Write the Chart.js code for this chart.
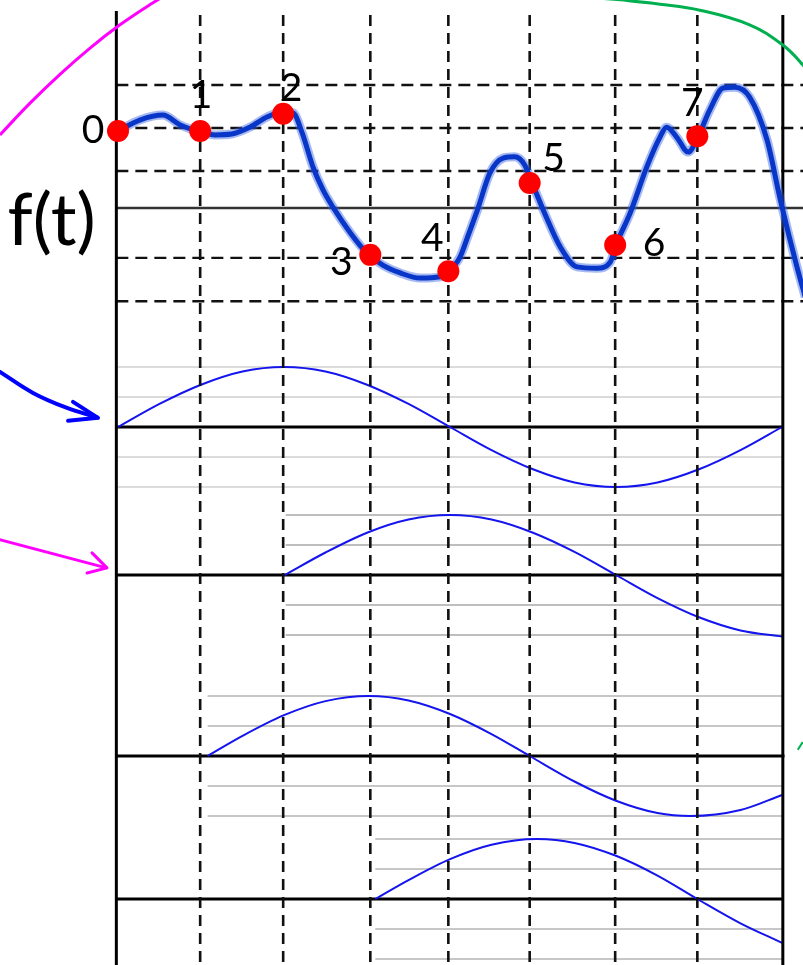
<!DOCTYPE html>
<html><head><meta charset="utf-8">
<script src="https://cdn.jsdelivr.net/npm/chart.js@4/dist/chart.umd.min.js"></script>
<style>html,body{margin:0;padding:0;background:#fff;overflow:hidden}canvas{display:block}</style>
</head><body>
<canvas id="c" width="803" height="965"></canvas>
<script>
// ---------------- data ----------------
const sampleLabels = ['0','1','2','3','4','5','6','7'];
const sampleT = [0, 0.99, 1.99, 3.04, 3.98, 4.96, 5.99, 6.98];
const sampleF = [1.79, 1.79, 2.19, -1.09, -1.47, 0.58, -0.86, 1.67];

const curveT = [0, 0.27, 0.54, 0.75, 0.99, 1.17, 1.37, 1.59, 1.8, 1.99, 2.11, 2.22, 2.35, 2.47, 2.59, 2.8, 3.0, 3.19, 3.4, 3.64, 3.88, 3.98, 4.12, 4.22, 4.33, 4.48, 4.64, 4.78, 4.9, 4.99, 5.14, 5.33, 5.53, 5.77, 5.93, 6.0, 6.17, 6.37, 6.53, 6.61, 6.73, 6.87, 6.98, 7.13, 7.29, 7.43, 7.61, 7.82, 7.98, 8.18, 8.28];
const curveF = [1.79, 2.05, 2.16, 1.93, 1.77, 1.70, 1.72, 1.88, 2.12, 2.23, 2.21, 1.74, 0.95, 0.42, 0.02, -0.58, -1.05, -1.33, -1.51, -1.63, -1.60, -1.49, -1.14, -0.63, -0.05, 0.81, 1.16, 1.19, 1.0, 0.58, -0.12, -0.91, -1.37, -1.40, -1.26, -0.86, -0.12, 0.95, 1.65, 1.88, 1.65, 1.30, 1.62, 2.28, 2.79, 2.81, 2.58, 1.58, 0.19, -1.37, -2.07];

const fGridLevels = [2.86, 1.86, 0.86, -1.16, -2.17];
const waveGridLevels = [2, 1, -1, -2];

const wave1T = [0, 0.5, 1, 1.5, 2, 2.5, 3, 3.5, 4, 4.5, 5, 5.5, 6, 6.5, 7, 7.5, 8];
const wave1V = [0, 0.77, 1.41, 1.85, 2, 1.85, 1.41, 0.77, 0, -0.77, -1.41, -1.85, -2, -1.85, -1.41, -0.77, 0];
const wave2T = [2.01, 2.5, 3, 3.5, 4, 4.5, 5, 5.5, 6, 6.5, 7, 7.5, 8];
const wave2V = [0, 0.75, 1.41, 1.85, 2, 1.85, 1.41, 0.77, 0, -0.77, -1.41, -1.85, -2.05];
const wave3T = [1.08, 1.5, 2, 2.5, 3.02, 3.5, 4, 4.5, 4.96, 5.5, 6, 6.5, 6.9, 7.5, 8];
const wave3V = [0, 0.67, 1.36, 1.83, 2, 1.85, 1.4, 0.73, 0, -0.85, -1.49, -1.9, -2, -1.8, -1.3];
const wave4T = [3.1, 3.5, 4, 4.5, 5.05, 5.5, 6, 6.5, 6.98, 7.5, 8];
const wave4V = [0, 0.63, 1.33, 1.81, 2, 1.87, 1.44, 0.78, 0, -0.81, -1.46];
const waveStartT = [0, 2.02, 1.08, 3.1];

// annotation strokes (in t / f(t) units)
const magentaArcT = [-1.482, -1.422, -1.060, -0.699, -0.337, 0.024, 0.386, 0.687];
const magentaArcF = [1.57, 1.70, 2.44, 3.11, 3.72, 4.26, 4.73, 5.08];
const greenArcT = [5.8, 6.05, 6.53, 7.01, 7.61, 8.01, 8.25, 8.36];
const greenArcF = [4.88, 4.84, 4.74, 4.60, 4.26, 3.79, 3.33, 3.02];
const blueArrowT = [-1.45, -1.422, -1.024, -0.614, -0.25];
const blueArrowF = [-3.77, -3.81, -4.30, -4.65, -4.87];
const blueHeadT = [-0.542, -0.241, -0.602];
const blueHeadF = [-4.51, -4.88, -4.95];
const magArrowT = [-1.45, -0.14];
const magArrowF = [-7.70, -8.37];
const magHeadT = [-0.313, -0.133, -0.373];
const magHeadF = [-8.02, -8.37, -8.49];
const greenTickT = [8.19, 8.25];
const greenTickF = [-12.60, -12.42];

// ---------------- layout ----------------
const W = 803, H = 965;
const T0_PX = 118, T_UNIT_PX = 83;
const F_ZERO_PX = 208, F_UNIT_PX = 43;
const W_UNIT_PX = 30;
const waveBasePx = [427, 575, 756, 899];
const waveGridColors = ['#cfcfcf', '#a9a9a9', '#b4b4b4', '#b4b4b4'];
const labelDx = [-25, 1, 8, -29, -16, 24, 39, -5];
const labelDy = [-1, -36, -25, 8, -33, -25, -2, -33];
const T_LEFT = -0.02, T_RIGHT = 8.0, T_EDGE = 8.26;
const F_TOP_AXIS = 4.58, F_TOP_DASH = 4.49, F_BOTTOM = -17.8;

const ds = [];
function add(xs, ys, axis, o) {
  ds.push(Object.assign({
    type: 'scatter', showLine: true,
    data: xs.map((x, i) => ({ x: x, y: ys[i] })),
    yAxisID: axis, pointRadius: 0, borderColor: '#000', borderWidth: 2,
    tension: 0, fill: false
  }, o || {}));
}

// wave panels: grey grids + baselines + curves
const waves = [[wave1T, wave1V], [wave2T, wave2V], [wave3T, wave3V], [wave4T, wave4V]];
waves.forEach((w, i) => {
  waveGridLevels.forEach(l => add([waveStartT[i], T_RIGHT], [l, l], 'w' + (i + 1), { borderColor: waveGridColors[i], borderWidth: 1.5 }));
});
waves.forEach((w, i) => {
  add([T_LEFT, T_RIGHT + (i === 2 ? 0.03 : 0)], [0, 0], 'w' + (i + 1), { borderColor: '#000', borderWidth: 3 });
});
waves.forEach((w, i) => {
  add(w[0], w[1], 'w' + (i + 1), { borderColor: '#1414ee', borderWidth: 2, cubicInterpolationMode: 'monotone' });
});

// dashed grid of the f(t) panel
fGridLevels.forEach(l => add([T_LEFT, T_EDGE], [l, l], 'yf', { borderColor: '#111', borderWidth: 2.4, borderDash: [12, 7] }));
sampleT.slice(1).forEach(t => add([t, t], [F_TOP_DASH, F_BOTTOM], 'yf', { borderColor: '#111', borderWidth: 2.6, borderDash: [11, 7] }));

// axes
add([T_LEFT, T_EDGE], [0, 0], 'yf', { borderColor: '#333', borderWidth: 2.5 });
add([T_LEFT, T_LEFT], [F_TOP_AXIS, F_BOTTOM], 'yf', { borderColor: '#000', borderWidth: 3 });
add([T_RIGHT + 0.01, T_RIGHT + 0.01], [F_TOP_DASH, F_BOTTOM], 'yf', { borderColor: '#000', borderWidth: 3 });

// f(t) curve (halo + core)
add(curveT, curveF, 'yf', { borderColor: 'rgba(60,100,225,0.45)', borderWidth: 9, cubicInterpolationMode: 'monotone' });
add(curveT, curveF, 'yf', { borderColor: '#0736c8', borderWidth: 5, cubicInterpolationMode: 'monotone' });

// samples
ds.push({ type: 'scatter', data: sampleT.map((t, i) => ({ x: t, y: sampleF[i] })), yAxisID: 'yf',
  pointRadius: 11, pointBackgroundColor: '#ff0000', pointBorderWidth: 0, showLine: false });

// annotations
add(magentaArcT, magentaArcF, 'yf', { borderColor: '#ff00ff', borderWidth: 3, tension: 0.4 });
add(greenArcT, greenArcF, 'yf', { borderColor: '#00b050', borderWidth: 3, tension: 0.4 });
add(blueArrowT, blueArrowF, 'yf', { borderColor: '#0000ff', borderWidth: 4, tension: 0.4, borderCapStyle: 'round' });
add(blueHeadT, blueHeadF, 'yf', { borderColor: '#0000ff', borderWidth: 4, borderCapStyle: 'round', borderJoinStyle: 'round' });
add(magArrowT, magArrowF, 'yf', { borderColor: '#ff00ff', borderWidth: 3, borderCapStyle: 'round' });
add(magHeadT, magHeadF, 'yf', { borderColor: '#ff00ff', borderWidth: 3, borderCapStyle: 'round', borderJoinStyle: 'round' });
add(greenTickT, greenTickF, 'yf', { borderColor: '#00b050', borderWidth: 2 });

ds.forEach((d, i) => { d.order = ds.length - i; });

const scales = {
  x: { type: 'linear', display: false, min: -T0_PX / T_UNIT_PX, max: (W - T0_PX) / T_UNIT_PX },
  yf: { type: 'linear', display: false, min: (F_ZERO_PX - H) / F_UNIT_PX, max: F_ZERO_PX / F_UNIT_PX }
};
waveBasePx.forEach((b, i) => {
  scales['w' + (i + 1)] = { type: 'linear', display: false, min: (b - H) / W_UNIT_PX, max: b / W_UNIT_PX };
});

const labelPlugin = {
  id: 'textLabels',
  afterDatasetsDraw(chart) {
    const { ctx } = chart;
    const x = chart.scales.x, yf = chart.scales.yf;
    ctx.save();
    ctx.fillStyle = '#000';
    ctx.textAlign = 'center';
    ctx.textBaseline = 'middle';
    ctx.font = '39px Lato';
    sampleLabels.forEach((s, i) => {
      ctx.fillText(s, x.getPixelForValue(sampleT[i]) + labelDx[i], yf.getPixelForValue(sampleF[i]) + labelDy[i]);
    });
    ctx.font = '72px Lato';
    ctx.fillText('f(t)', x.getPixelForValue(-0.8), yf.getPixelForValue(-0.33));
    ctx.restore();
  }
};

new Chart(document.getElementById('c'), {
  type: 'scatter',
  data: { datasets: ds },
  options: {
    responsive: false, animation: false, events: [], devicePixelRatio: 1,
    layout: { padding: 0, autoPadding: false },
    plugins: { legend: { display: false }, tooltip: { enabled: false } },
    scales: scales
  },
  plugins: [labelPlugin]
});
</script>
</body></html>
